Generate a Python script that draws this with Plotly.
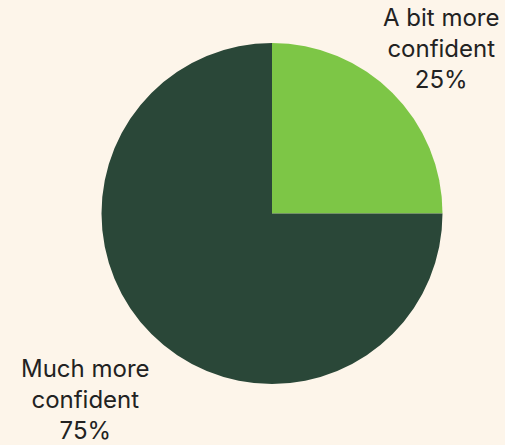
import plotly.graph_objects as go

labels = ["A bit more confident", "Much more confident"]
label_lines = [["A bit more", "confident"], ["Much more", "confident"]]
values = [25, 75]
colors = ["#7DC646", "#2A4738"]

W, H = 505, 445
fig = go.Figure(go.Pie(
    labels=labels,
    values=values,
    sort=False,
    direction="clockwise",
    rotation=0,
    marker=dict(colors=colors, line=dict(width=0)),
    textinfo="none",
    hoverinfo="label+percent",
    domain=dict(x=[101.5 / W, 442.5 / W], y=[1 - 384 / H, 1 - 43 / H]),
    showlegend=False,
))

total = sum(values)
positions = [(441, 49), (85, 399)]
for (lines, v, (px, py)) in zip(label_lines, values, positions):
    txt = "<br>".join(lines + [f"{round(100 * v / total)}%"])
    fig.add_annotation(
        x=px / W, y=1 - py / H, xref="paper", yref="paper",
        text=txt, showarrow=False, align="center",
        xanchor="center", yanchor="middle",
        font=dict(family="Inter, Roboto, sans-serif", size=24, color="#222222"),
    )

fig.update_layout(
    width=W, height=H,
    margin=dict(l=0, r=0, t=0, b=0),
    paper_bgcolor="#FDF5EA",
    plot_bgcolor="#FDF5EA",
)
fig.write_html("out.html")
